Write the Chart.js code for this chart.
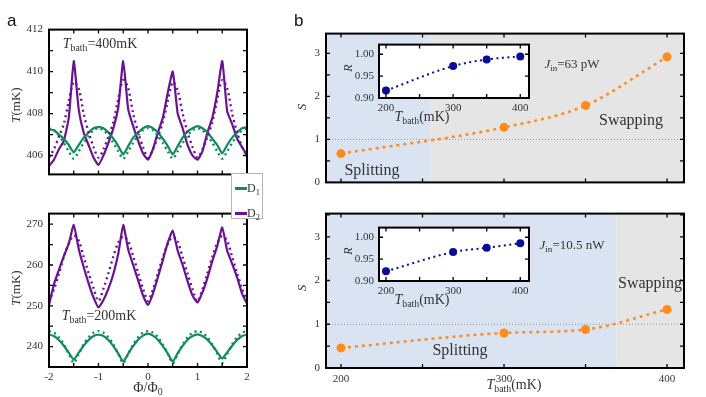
<!DOCTYPE html>
<html>
<head>
<meta charset="utf-8">
<script src="https://cdn.jsdelivr.net/npm/chart.js@4.4.1/dist/chart.umd.min.js"></script>
<style>
  body { margin: 0; width: 706px; height: 397px; background: #fff; position: relative; overflow: hidden; }
  canvas { position: absolute; }
  .lbl { position: absolute; white-space: nowrap; color: #333; font-family: 'Liberation Serif', 'DejaVu Serif', serif; line-height: 1; transform: translate(-50%, -50%); }
  .lbl sub { font-size: 70%; vertical-align: -0.35em; line-height: 0; }
  .rot { transform: translate(-50%, -50%) rotate(-90deg); }
  .panel { position: absolute; font-family: 'Liberation Sans', Arial, sans-serif; font-size: 17px; color: #111; }
  #legend { position: absolute; left: 231px; top: 173px; width: 32px; height: 46px; background: #fff; border: 1px solid #b5b5b5; box-sizing: border-box; }
  #legend .sw { position: absolute; left: 3px; width: 12px; height: 2.5px; }
  #legend .tx { position: absolute; left: 15px; font-family: 'Liberation Serif', serif; font-size: 12px; color: #333; line-height: 1; }
  #legend sub { font-size: 70%; vertical-align: -0.35em; line-height: 0; }
</style>
</head>
<body>
<canvas id="aTop"></canvas>
<canvas id="aBot"></canvas>
<canvas id="bTop"></canvas>
<canvas id="bBot"></canvas>
<canvas id="insetTop"></canvas>
<canvas id="insetBot"></canvas>

<div class="panel" style="left:7px;top:11px">a</div>
<div class="panel" style="left:294px;top:11px">b</div>

<!-- panel a labels -->
<div class="lbl rot" style="left:15px;top:105px;font-size:13px"><i>T</i>(mK)</div>
<div class="lbl rot" style="left:15px;top:288px;font-size:13px"><i>T</i>(mK)</div>
<div class="lbl" style="left:100px;top:44px;font-size:14px"><i>T</i><sub>bath</sub>=400mK</div>
<div class="lbl" style="left:99px;top:316px;font-size:14px"><i>T</i><sub>bath</sub>=200mK</div>
<div class="lbl" style="left:148px;top:388px;font-size:14px">&Phi;/&Phi;<sub>0</sub></div>

<div id="legend">
  <div class="sw" style="top:13px;background:#118a5e"></div>
  <div class="tx" style="top:8px">D<sub>1</sub></div>
  <div class="sw" style="top:38px;background:#6a1390"></div>
  <div class="tx" style="top:33px">D<sub>2</sub></div>
</div>

<!-- panel b labels -->
<div class="lbl rot" style="left:301px;top:107px;font-size:13px"><i>S</i></div>
<div class="lbl rot" style="left:301px;top:288px;font-size:13px"><i>S</i></div>
<div class="lbl rot" style="left:348px;top:68px;font-size:12px"><i>R</i></div>
<div class="lbl rot" style="left:348px;top:251px;font-size:12px"><i>R</i></div>
<div class="lbl" style="left:422px;top:117px;font-size:14px"><i>T</i><sub>bath</sub>(mK)</div>
<div class="lbl" style="left:422px;top:300px;font-size:14px"><i>T</i><sub>bath</sub>(mK)</div>
<div class="lbl" style="left:514px;top:385px;font-size:14px"><i>T</i><sub>bath</sub>(mK)</div>
<div class="lbl" style="left:372px;top:170px;font-size:16px">Splitting</div>
<div class="lbl" style="left:631px;top:120px;font-size:16px">Swapping</div>
<div class="lbl" style="left:572px;top:63px;font-size:13px"><i>J</i><sub>in</sub>=63 pW</div>
<div class="lbl" style="left:460px;top:350px;font-size:16px">Splitting</div>
<div class="lbl" style="left:650px;top:283px;font-size:16px">Swapping</div>
<div class="lbl" style="left:572px;top:244px;font-size:13px"><i>J</i><sub>in</sub>=10.5 nW</div>

<script>
// flux axis (Φ/Φ0), shared by all panel-a curves
const phi = [-2.0, -1.9, -1.8, -1.7, -1.6, -1.5, -1.4, -1.3, -1.2, -1.1,
             -1.0, -0.9, -0.8, -0.7, -0.6, -0.5, -0.4, -0.3, -0.2, -0.1,
              0.0,  0.1,  0.2,  0.3,  0.4,  0.5,  0.6,  0.7,  0.8,  0.9,
              1.0,  1.1,  1.2,  1.3,  1.4,  1.5,  1.6,  1.7,  1.8,  1.9, 2.0];

// T_bath = 400 mK (mK), measured = solid, theory = dotted
const d1Meas400 = [407.25, 407.2, 407.0, 406.8, 406.5, 406.15, 406.5, 406.85, 407.1, 407.3,
                   407.35, 407.3, 407.1, 406.8, 406.45, 406.05, 406.45, 406.85, 407.1, 407.3,
                   407.4, 407.3, 407.1, 406.8, 406.45, 406.05, 406.45, 406.85, 407.15, 407.3,
                   407.4, 407.3, 407.1, 406.8, 406.5, 406.1, 406.5, 406.85, 407.1, 407.3, 407.35];
const d1Theo400 = [407.3, 407.2, 406.95, 406.6, 406.2, 405.85, 406.2, 406.6, 406.95, 407.2,
                   407.3, 407.2, 406.95, 406.6, 406.2, 405.85, 406.2, 406.6, 406.95, 407.2,
                   407.3, 407.2, 406.95, 406.6, 406.2, 405.85, 406.2, 406.6, 406.95, 407.2,
                   407.3, 407.2, 406.95, 406.6, 406.2, 405.85, 406.2, 406.6, 406.95, 407.2, 407.3];
const d2Meas400 = [405.5, 405.8, 406.3, 406.7, 407.8, 410.5, 408.2, 407.1, 406.5, 405.9,
                   405.55, 406.0, 406.6, 407.3, 408.3, 410.5, 408.2, 407.4, 406.7, 406.1,
                   405.8, 406.3, 407.1, 407.8, 409.0, 410.0, 408.0, 407.3, 406.5, 406.0,
                   405.8, 406.2, 407.1, 407.8, 409.0, 410.5, 408.1, 407.5, 406.8, 406.4, 406.0];
const d2Theo400 = [405.9, 406.3, 406.9, 407.5, 408.6, 409.5, 409.2, 408.0, 407.1, 406.4,
                   405.9, 406.3, 406.9, 407.6, 408.7, 409.6, 409.2, 408.0, 407.1, 406.4,
                   405.9, 406.3, 406.9, 407.6, 408.6, 409.5, 409.1, 408.0, 407.1, 406.4,
                   405.9, 406.3, 406.9, 407.6, 408.7, 409.6, 409.2, 408.0, 407.1, 406.4, 406.0];

// T_bath = 200 mK
const d1Meas200 = [242.9, 242.6, 241.6, 240.2, 238.5, 236.8, 238.5, 240.2, 241.6, 242.6,
                   242.9, 242.6, 241.6, 240.1, 238.3, 236.3, 238.3, 240.1, 241.7, 242.7,
                   243.2, 242.7, 241.7, 240.1, 238.3, 236.3, 238.4, 240.2, 241.7, 242.6,
                   243.0, 242.6, 241.7, 240.3, 238.6, 237.1, 238.6, 240.2, 241.6, 242.6, 242.9];
const d1Theo200 = [243.8, 243.4, 242.3, 240.5, 238.2, 236.0, 238.2, 240.5, 242.3, 243.4,
                   243.8, 243.4, 242.3, 240.5, 238.2, 236.0, 238.2, 240.5, 242.3, 243.4,
                   243.8, 243.4, 242.3, 240.5, 238.2, 236.0, 238.2, 240.5, 242.3, 243.4,
                   243.8, 243.4, 242.3, 240.5, 238.2, 236.0, 238.2, 240.5, 242.3, 243.4, 243.8];
const d2Meas200 = [250.2, 255.3, 258.8, 262.2, 265.3, 269.8, 264.0, 259.5, 255.5, 252.0,
                   249.6, 251.4, 254.2, 257.8, 262.8, 269.8, 263.8, 260.0, 256.3, 252.5,
                   250.2, 253.0, 257.0, 261.2, 265.5, 268.4, 263.5, 260.0, 256.0, 252.5,
                   250.8, 253.3, 256.8, 261.0, 264.7, 269.2, 263.5, 260.3, 257.0, 253.0, 250.5];
const d2Theo200 = [251.0, 254.0, 257.8, 262.0, 265.3, 267.2, 266.0, 262.0, 258.0, 254.3,
                   251.2, 254.2, 258.0, 262.1, 265.5, 267.0, 265.8, 262.2, 258.1, 254.2,
                   251.2, 254.0, 257.9, 261.9, 265.2, 266.9, 265.7, 261.9, 257.9, 254.1,
                   251.1, 254.1, 258.0, 262.0, 265.4, 267.1, 265.9, 262.0, 258.0, 254.2, 251.2];

// panel b: bath temperatures (mK), S and R for the two input powers
const tBath = [200, 300, 350, 400];
const sLow = [0.67, 1.28, 1.79, 2.92];   // J_in = 63 pW
const sHigh = [0.46, 0.80, 0.88, 1.34];  // J_in = 10.5 nW
const rLow = [0.917, 0.973, 0.988, 0.995];
const rHigh = [0.922, 0.966, 0.976, 0.986];
const splitEnd = [255, 369];  // T_bath where splitting -> swapping
const sThreshold = 1;

const PURPLE = '#6a1390';
const GREEN = '#118a5e';
const ORANGE = '#ff8c1a';
const NAVY = '#0b0b9b';

Chart.defaults.font.family = "'Liberation Serif', 'DejaVu Serif', serif";
Chart.defaults.font.size = 11;
Chart.defaults.color = '#333';
Chart.defaults.animation = false;

// box frame with inward ticks on all four sides
const framePlugin = {
  id: 'frame',
  afterDraw(chart) {
    const { ctx, chartArea: a, scales: { x, y } } = chart;
    const tl = 4;
    ctx.save();
    ctx.strokeStyle = '#000';
    ctx.lineWidth = 1.3;
    ctx.beginPath();
    x.ticks.forEach(t => {
      const px = x.getPixelForValue(t.value);
      ctx.moveTo(px, a.top); ctx.lineTo(px, a.top + tl);
      ctx.moveTo(px, a.bottom); ctx.lineTo(px, a.bottom - tl);
    });
    y.ticks.forEach(t => {
      const py = y.getPixelForValue(t.value);
      ctx.moveTo(a.left, py); ctx.lineTo(a.left + tl, py);
      ctx.moveTo(a.right, py); ctx.lineTo(a.right - tl, py);
    });
    ctx.stroke();
    ctx.lineWidth = 2;
    ctx.strokeRect(a.left, a.top, a.width, a.height);
    ctx.restore();
  }
};

// splitting / swapping shading and S = 1 line
const bandsPlugin = {
  id: 'bands',
  beforeDatasetsDraw(chart, args, opts) {
    const { ctx, chartArea: a, scales: { x, y } } = chart;
    const xs = x.getPixelForValue(opts.split);
    ctx.save();
    ctx.fillStyle = '#dae3f2';
    ctx.fillRect(a.left, a.top, xs - a.left, a.height);
    ctx.fillStyle = '#e5e5e5';
    ctx.fillRect(xs, a.top, a.right - xs, a.height);
    const py = y.getPixelForValue(opts.threshold);
    ctx.strokeStyle = '#9a9a9a';
    ctx.lineWidth = 1;
    ctx.setLineDash([1, 2]);
    ctx.beginPath();
    ctx.moveTo(a.left, py); ctx.lineTo(a.right, py);
    ctx.stroke();
    ctx.restore();
  }
};

const whitePlugin = {
  id: 'white',
  beforeDatasetsDraw(chart) {
    const { ctx, chartArea: a } = chart;
    ctx.save();
    ctx.fillStyle = '#fff';
    ctx.fillRect(a.left, a.top, a.width, a.height);
    ctx.restore();
  }
};

function onStep(v, every) {
  const q = v / every;
  return Math.abs(q - Math.round(q)) < 1e-6;
}

function axis(min, max, step, labelEvery, show, fmt, padding, size, horizontal) {
  return {
    type: 'linear', min, max,
    grid: { display: false, drawTicks: false }, border: { display: false },
    ticks: {
      stepSize: step, includeBounds: false, display: show, padding,
      autoSkip: false, maxRotation: 0,
      callback: v => onStep(v, labelEvery) ? fmt(v) : ''
    },
    afterFit: s => { if (horizontal) s.height = size; else s.width = size; }
  };
}

function place(id, b) {
  const c = document.getElementById(id);
  const w = b.r - b.l + b.pl + b.pr;
  const h = b.b - b.t + b.pt + b.pb;
  c.width = w; c.height = h;
  c.style.left = (b.l - b.pl) + 'px';
  c.style.top = (b.t - b.pt) + 'px';
  c.style.width = w + 'px';
  c.style.height = h + 'px';
  return c;
}

function pts(xs, ys) {
  return xs.map((v, i) => ({ x: v, y: ys[i] }));
}

function fluxLine(ys, color, dotted) {
  return {
    data: pts(phi, ys),
    borderColor: color,
    borderWidth: dotted ? 2.4 : 2.2,
    borderDash: dotted ? [2, 3.5] : [],
    pointRadius: 0,
    tension: dotted ? 0.3 : 0.15,
    borderCapStyle: dotted ? 'butt' : 'round'
  };
}

function fluxChart(id, box, yMin, yMax, yStep, yLabelEvery, showX, series) {
  const c = place(id, box);
  return new Chart(c, {
    type: 'line',
    data: { datasets: series },
    options: {
      responsive: false, devicePixelRatio: 1,
      layout: { padding: { left: 0, top: box.pt, right: box.pr, bottom: 0 } },
      plugins: { legend: { display: false }, tooltip: { enabled: false } },
      scales: {
        x: axis(-2, 2, 0.5, 1, showX, v => String(v), 4, box.pb, true),
        y: axis(yMin, yMax, yStep, yLabelEvery, true, v => String(v), 6, box.pl, false)
      }
    },
    plugins: [framePlugin]
  });
}

fluxChart('aTop', { l: 49, t: 27, r: 247, b: 183, pl: 49, pt: 10, pr: 6, pb: 4 },
  405.1, 412, 1, 2, false, [
    fluxLine(d1Theo400, GREEN, true),
    fluxLine(d2Theo400, PURPLE, true),
    fluxLine(d1Meas400, GREEN, false),
    fluxLine(d2Meas400, PURPLE, false)
  ]);

fluxChart('aBot', { l: 49, t: 209, r: 247, b: 367, pl: 49, pt: 8, pr: 8, pb: 22 },
  235, 272.6, 5, 10, true, [
    fluxLine(d1Theo200, GREEN, true),
    fluxLine(d2Theo200, PURPLE, true),
    fluxLine(d1Meas200, GREEN, false),
    fluxLine(d2Meas200, PURPLE, false)
  ]);

function sChart(id, box, yMax, sVals, split, showX) {
  const c = place(id, box);
  return new Chart(c, {
    type: 'line',
    data: {
      datasets: [{
        data: pts(tBath, sVals),
        borderColor: ORANGE,
        borderWidth: 2.5,
        borderDash: [3, 4],
        cubicInterpolationMode: 'monotone',
        pointRadius: 4.5,
        pointBorderWidth: 0,
        pointBackgroundColor: ORANGE
      }]
    },
    options: {
      responsive: false, devicePixelRatio: 1,
      layout: { padding: { left: 0, top: box.pt, right: box.pr, bottom: 0 } },
      plugins: {
        legend: { display: false }, tooltip: { enabled: false },
        bands: { split, threshold: sThreshold }
      },
      scales: {
        x: axis(190.8, 410.4, 50, 100, showX, v => String(v), 5, box.pb, true),
        y: axis(0, yMax, 0.5, 1, true, v => String(v), 6, box.pl, false)
      }
    },
    plugins: [bandsPlugin, framePlugin]
  });
}

sChart('bTop', { l: 326, t: 29, r: 684, b: 186, pl: 30, pt: 8, pr: 12, pb: 9 }, 3.46, sLow, splitEnd[0], false);
sChart('bBot', { l: 326, t: 209, r: 684, b: 368, pl: 30, pt: 8, pr: 16, pb: 22 }, 3.53, sHigh, splitEnd[1], true);

function insetChart(id, box, rVals) {
  const c = place(id, box);
  return new Chart(c, {
    type: 'line',
    data: {
      datasets: [{
        data: pts(tBath, rVals),
        borderColor: NAVY,
        borderWidth: 2,
        borderDash: [2, 3.5],
        cubicInterpolationMode: 'monotone',
        pointRadius: 4,
        pointBorderWidth: 0,
        pointBackgroundColor: NAVY
      }]
    },
    options: {
      responsive: false, devicePixelRatio: 1,
      layout: { padding: { left: 0, top: box.pt, right: box.pr, bottom: 0 } },
      plugins: { legend: { display: false }, tooltip: { enabled: false } },
      scales: {
        x: axis(189.6, 413, 50, 100, true, v => String(v), 4, box.pb, true),
        y: axis(0.9, 1.022, 0.05, 0.05, true, v => v.toFixed(2), 5, box.pl, false)
      }
    },
    plugins: [whitePlugin, framePlugin]
  });
}

insetChart('insetTop', { l: 379, t: 39, r: 529, b: 98, pl: 36, pt: 6, pr: 12, pb: 17 }, rLow);
insetChart('insetBot', { l: 379, t: 222, r: 529, b: 281, pl: 36, pt: 6, pr: 12, pb: 17 }, rHigh);
</script>
</body>
</html>
